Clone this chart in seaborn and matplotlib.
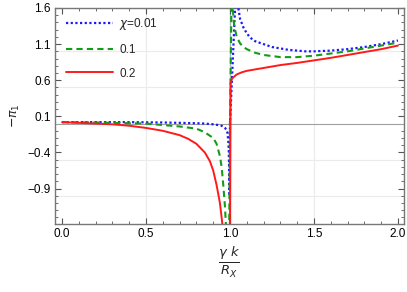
import numpy as np
import pandas as pd
import matplotlib
matplotlib.use("Agg")
import matplotlib.pyplot as plt
from matplotlib.ticker import FixedLocator, MultipleLocator
import seaborn as sns

# values, x = gamma k / R_X
x_blue = [0.0, 0.2, 0.4, 0.6, 0.7, 0.8, 0.85, 0.9, 0.93, 0.95, 0.97, 0.98, 0.985,
          0.99, 0.993, 0.997, 1.0, 1.0, 1.035, 1.048, 1.06, 1.08, 1.1, 1.12, 1.15, 1.2,
          1.25, 1.3, 1.35, 1.4, 1.45, 1.5, 1.6, 1.7, 1.8, 1.9, 2.0]
y_blue = [0.02, 0.02, 0.02, 0.015, 0.01, 0.005, 0.0, -0.01, -0.02, -0.03, -0.06, -0.09, -0.13,
          -0.25, -0.4, -1.0, -3.0, 3.0, 1.85, 1.62, 1.45, 1.33, 1.25, 1.19, 1.14, 1.1,
          1.06, 1.04, 1.02, 1.01, 1.0, 1.0, 1.01, 1.03, 1.06, 1.1, 1.15]

x_green = [0.0, 0.2, 0.3, 0.5, 0.6, 0.7, 0.8, 0.85, 0.9, 0.92, 0.94, 0.95, 0.96, 0.97,
           0.98, 0.99, 1.0, 1.0, 1.01, 1.016, 1.025, 1.04, 1.06, 1.08, 1.1, 1.15, 1.2,
           1.3, 1.4, 1.5, 1.6, 1.7, 1.8, 1.9, 2.0]
y_green = [0.02, 0.015, 0.01, 0.0, -0.02, -0.04, -0.07, -0.12, -0.2, -0.28, -0.45, -0.6, -0.85, -1.15,
           -1.6, -3.0, -3.0, 3.0, 1.9, 1.6, 1.35, 1.2, 1.11, 1.06, 1.03, 0.98, 0.95,
           0.92, 0.92, 0.94, 0.97, 1.0, 1.04, 1.08, 1.12]

x_red = [0.0, 0.1, 0.2, 0.3, 0.4, 0.5, 0.6, 0.7, 0.75, 0.8, 0.85, 0.88, 0.9, 0.92, 0.94,
         0.96, 0.98, 1.0, 1.0, 1.003, 1.008, 1.015, 1.025, 1.04, 1.07, 1.1, 1.2, 1.3, 1.4,
         1.5, 1.6, 1.7, 1.8, 1.9, 2.0]
y_red = [0.02, 0.01, 0.0, -0.01, -0.03, -0.06, -0.1, -0.16, -0.21, -0.28, -0.4, -0.52, -0.65, -0.85, -1.1,
         -1.5, -3.0, -3.0, 0.4, 0.55, 0.6, 0.63, 0.65, 0.68, 0.71, 0.73, 0.77, 0.81, 0.84,
         0.875, 0.91, 0.95, 0.99, 1.03, 1.08]

labels = [r"$\chi$=0.01", "0.1", "0.2"]
x_ticks = [0.0, 0.5, 1.0, 1.5, 2.0]
y_ticks = [-0.9, -0.4, 0.1, 0.6, 1.1, 1.6]

sns.set_theme(style="white")
plt.rcParams["font.family"] = ["Liberation Sans", "DejaVu Sans"]
plt.rcParams["mathtext.fontset"] = "dejavusans"

fig = plt.figure(figsize=(4.07, 2.92), dpi=100)
ax = fig.add_axes([55 / 407, 1 - 224 / 292, 349 / 407, 216 / 292])

# light grid and the y=0 axis line
for g in [-1.0, -0.5, 0.5, 1.0]:
    ax.axhline(g, color="#ebebeb", lw=0.8, zorder=0)
for g in [0.5, 1.0, 1.5]:
    ax.axvline(g, color="#ebebeb", lw=0.8, zorder=0)
ax.axhline(0, color="#a0a0a0", lw=0.8, zorder=1)

series = [
    (x_blue, y_blue, "#1a1aff", (0, (1, 1.1)), 1.6),
    (x_green, y_green, "#179a17", (0, (3, 2)), 1.5),
    (x_red, y_red, "#ff1a1a", "-", 1.4),
]
for (xs, ys, col, ls, lw), lab in zip(series, labels):
    df = pd.DataFrame({"x": xs, "y": ys})
    sns.lineplot(data=df, x="x", y="y", sort=False, color=col, lw=lw,
                 linestyle=ls, label=lab, ax=ax, zorder=3)

ax.set_xlim(-0.042, 2.036)
ax.set_ylim(-1.39, 1.6)
ax.xaxis.set_major_locator(FixedLocator(x_ticks))
ax.xaxis.set_minor_locator(MultipleLocator(0.1))
ax.yaxis.set_major_locator(FixedLocator(y_ticks))
ax.yaxis.set_minor_locator(MultipleLocator(0.1))
ax.set_xticklabels([f"{t:.1f}" for t in x_ticks])
ax.set_yticklabels([f"{t:.1f}".replace("-", "\u2212") for t in y_ticks])
ax.tick_params(which="both", direction="in", top=True, right=True, bottom=True, left=True,
               labelsize=8.5, colors="#555555", labelcolor="black", pad=3)
ax.tick_params(which="major", length=4, width=0.8)
ax.tick_params(which="minor", length=2, width=0.6)
for s in ax.spines.values():
    s.set_color("#777777")
    s.set_linewidth(1.0)

ax.set_ylabel(r"$-\pi_1$", fontsize=9, labelpad=4)
ax.set_xlabel(r"$\frac{\gamma\ k}{R_X}$", fontsize=13.5, labelpad=3)

leg = ax.legend(loc="upper left", bbox_to_anchor=(0.018, 0.985), frameon=False,
                fontsize=8.5, handlelength=4.0, labelspacing=1.0, borderaxespad=0,
                handletextpad=0.5)

fig.savefig("out.png", dpi=100)
